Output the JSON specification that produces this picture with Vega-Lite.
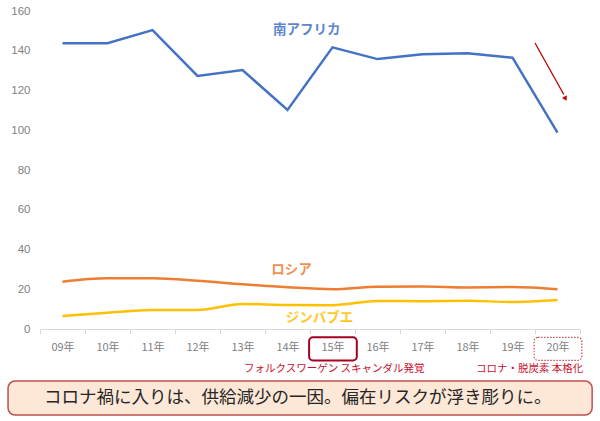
{
  "$schema": "https://vega.github.io/schema/vega-lite/v6.json",
  "width": 540,
  "height": 318,
  "autosize": "none",
  "padding": {"left": 40, "top": 11, "right": 20, "bottom": 92},
  "background": "white",
  "config": {
    "view": {"stroke": null},
    "font": "Noto Sans CJK JP",
    "text": {"font": "Noto Sans CJK JP"}
  },
  "datasets": {
    "prices": [
      {"year": "09年", "country": "南アフリカ", "value": 143.8},
      {"year": "10年", "country": "南アフリカ", "value": 143.8},
      {"year": "11年", "country": "南アフリカ", "value": 150.4},
      {"year": "12年", "country": "南アフリカ", "value": 127.3},
      {"year": "13年", "country": "南アフリカ", "value": 130.3},
      {"year": "14年", "country": "南アフリカ", "value": 110.2},
      {"year": "15年", "country": "南アフリカ", "value": 141.7},
      {"year": "16年", "country": "南アフリカ", "value": 135.8},
      {"year": "17年", "country": "南アフリカ", "value": 138.2},
      {"year": "18年", "country": "南アフリカ", "value": 138.7},
      {"year": "19年", "country": "南アフリカ", "value": 136.5},
      {"year": "20年", "country": "南アフリカ", "value": 98.8},
      {"year": "09年", "country": "ロシア", "value": 23.8},
      {"year": "10年", "country": "ロシア", "value": 25.5},
      {"year": "11年", "country": "ロシア", "value": 25.5},
      {"year": "12年", "country": "ロシア", "value": 24.3},
      {"year": "13年", "country": "ロシア", "value": 22.5},
      {"year": "14年", "country": "ロシア", "value": 21.0},
      {"year": "15年", "country": "ロシア", "value": 20.0},
      {"year": "16年", "country": "ロシア", "value": 21.3},
      {"year": "17年", "country": "ロシア", "value": 21.4},
      {"year": "18年", "country": "ロシア", "value": 20.9},
      {"year": "19年", "country": "ロシア", "value": 21.1},
      {"year": "20年", "country": "ロシア", "value": 20.0},
      {"year": "09年", "country": "ジンバブエ", "value": 6.5},
      {"year": "10年", "country": "ジンバブエ", "value": 8.2},
      {"year": "11年", "country": "ジンバブエ", "value": 9.6},
      {"year": "12年", "country": "ジンバブエ", "value": 9.6},
      {"year": "13年", "country": "ジンバブエ", "value": 12.6},
      {"year": "14年", "country": "ジンバブエ", "value": 12.1},
      {"year": "15年", "country": "ジンバブエ", "value": 12.0},
      {"year": "16年", "country": "ジンバブエ", "value": 14.1},
      {"year": "17年", "country": "ジンバブエ", "value": 14.0},
      {"year": "18年", "country": "ジンバブエ", "value": 14.2},
      {"year": "19年", "country": "ジンバブエ", "value": 13.6},
      {"year": "20年", "country": "ジンバブエ", "value": 14.6}
    ],
    "seriesLabels": [
      {"country": "南アフリカ", "slot": 5.93, "value": 150.4},
      {"country": "ロシア", "slot": 5.59, "value": 29.7},
      {"country": "ジンバブエ", "slot": 6.21, "value": 5.4}
    ],
    "events": [
      {"label": "フォルクスワーゲン スキャンダル発覚", "slot": 6.54, "value": -20.1},
      {"label": "コロナ・脱炭素 本格化", "slot": 10.88, "value": -20.1}
    ],
    "vwBox": [{"slot": 5.98, "slotEnd": 7.04, "value": -4.2, "valueEnd": -15.8}],
    "covidBox": [{"slot": 10.98, "slotEnd": 12.04, "value": -4.2, "valueEnd": -15.8}],
    "arrow": [{"slot": 11.0, "slotEnd": 11.64, "value": 143.9, "valueEnd": 118.0}],
    "arrowHead": [{"slot": 11.67, "value": 116.2}],
    "callout": [{"slot": -0.71, "slotEnd": 12.27, "value": -26.2, "valueEnd": -43.3}],
    "calloutText": [{"slot": 5.73, "value": -34.7, "text": "コロナ禍に入りは、供給減少の一因。偏在リスクが浮き彫りに。"}]
  },
  "layer": [
    {
      "data": {"name": "prices"},
      "transform": [{"filter": "datum.country == '南アフリカ'"}],
      "mark": {"type": "line", "strokeWidth": 2.5},
      "encoding": {
        "x": {
          "field": "year",
          "type": "nominal",
          "sort": null,
          "scale": {"type": "band", "paddingInner": 0, "paddingOuter": 0},
          "axis": {
            "title": null,
            "labelAngle": 0,
            "labelOverlap": false,
            "tickBand": "extent",
            "domainColor": "#d9d9d9",
            "tickColor": "#d9d9d9",
            "tickSize": 5,
            "labelColor": "#7f7f7f",
            "labelFontSize": 11,
            "labelPadding": 7,
            "labelFont": "Noto Sans CJK JP"
          }
        },
        "y": {
          "field": "value",
          "type": "quantitative",
          "scale": {"domain": [0, 160], "nice": false},
          "axis": {
            "title": null,
            "tickCount": 9,
            "labelOverlap": false,
            "labelSeparation": 0,
            "grid": false,
            "domain": false,
            "ticks": false,
            "labelColor": "#7f7f7f",
            "labelFontSize": 11.5,
            "labelPadding": 10,
            "labelFont": "Liberation Sans"
          }
        },
        "color": {
          "field": "country",
          "type": "nominal",
          "scale": {"domain": ["南アフリカ", "ロシア", "ジンバブエ"], "range": ["#4472c4", "#ed7d31", "#ffc000"]},
          "legend": null
        }
      }
    },
    {
      "data": {"name": "prices"},
      "transform": [{"filter": "datum.country != '南アフリカ'"}],
      "mark": {"type": "line", "strokeWidth": 2.5, "interpolate": "monotone"},
      "encoding": {
        "x": {"field": "year", "type": "nominal", "sort": null, "scale": {"type": "band", "paddingInner": 0, "paddingOuter": 0}, "axis": null},
        "y": {"field": "value", "type": "quantitative"},
        "color": {"field": "country", "type": "nominal", "legend": null}
      }
    },
    {
      "data": {"name": "seriesLabels"},
      "mark": {"type": "text", "fontSize": 13.5, "fontWeight": "bold", "font": "Noto Sans CJK JP", "align": "center", "baseline": "middle", "opacity": 0.85},
      "encoding": {
        "x": {"field": "slot", "type": "quantitative", "scale": {"domain": [0, 12], "nice": false, "zero": false}, "axis": null},
        "y": {"field": "value", "type": "quantitative"},
        "text": {"field": "country"},
        "color": {"field": "country", "type": "nominal", "legend": null}
      }
    },
    {
      "data": {"name": "events"},
      "mark": {"type": "text", "fontSize": 10.5, "font": "Noto Sans CJK JP", "color": "#c8102e", "align": "center", "baseline": "middle"},
      "encoding": {
        "x": {"field": "slot", "type": "quantitative", "scale": {"domain": [0, 12], "nice": false, "zero": false}, "axis": null},
        "y": {"field": "value", "type": "quantitative"},
        "text": {"field": "label"}
      }
    },
    {
      "data": {"name": "vwBox"},
      "mark": {"type": "rect", "fill": null, "stroke": "#a50021", "strokeWidth": 2, "cornerRadius": 4},
      "encoding": {
        "x": {"field": "slot", "type": "quantitative", "scale": {"domain": [0, 12], "nice": false, "zero": false}, "axis": null},
        "x2": {"field": "slotEnd"},
        "y": {"field": "value", "type": "quantitative"},
        "y2": {"field": "valueEnd"}
      }
    },
    {
      "data": {"name": "covidBox"},
      "mark": {"type": "rect", "fill": null, "stroke": "#c0504d", "strokeWidth": 1.2, "strokeDash": [1.5, 1.5], "cornerRadius": 4},
      "encoding": {
        "x": {"field": "slot", "type": "quantitative", "scale": {"domain": [0, 12], "nice": false, "zero": false}, "axis": null},
        "x2": {"field": "slotEnd"},
        "y": {"field": "value", "type": "quantitative"},
        "y2": {"field": "valueEnd"}
      }
    },
    {
      "data": {"name": "arrow"},
      "mark": {"type": "rule", "color": "#c00000", "strokeWidth": 1.3},
      "encoding": {
        "x": {"field": "slot", "type": "quantitative", "scale": {"domain": [0, 12], "nice": false, "zero": false}, "axis": null},
        "x2": {"field": "slotEnd"},
        "y": {"field": "value", "type": "quantitative"},
        "y2": {"field": "valueEnd"}
      }
    },
    {
      "data": {"name": "arrowHead"},
      "mark": {"type": "point", "shape": "triangle", "filled": true, "color": "#c00000", "size": 30, "angle": 151, "opacity": 1},
      "encoding": {
        "x": {"field": "slot", "type": "quantitative", "scale": {"domain": [0, 12], "nice": false, "zero": false}, "axis": null},
        "y": {"field": "value", "type": "quantitative"}
      }
    },
    {
      "data": {"name": "callout"},
      "mark": {"type": "rect", "fill": "#fde7d6", "stroke": "#c0504d", "strokeWidth": 1.5, "cornerRadius": 7},
      "encoding": {
        "x": {"field": "slot", "type": "quantitative", "scale": {"domain": [0, 12], "nice": false, "zero": false}, "axis": null},
        "x2": {"field": "slotEnd"},
        "y": {"field": "value", "type": "quantitative"},
        "y2": {"field": "valueEnd"}
      }
    },
    {
      "data": {"name": "calloutText"},
      "mark": {"type": "text", "fontSize": 17.5, "font": "Noto Sans CJK JP", "color": "#262626", "align": "center", "baseline": "middle"},
      "encoding": {
        "x": {"field": "slot", "type": "quantitative", "scale": {"domain": [0, 12], "nice": false, "zero": false}, "axis": null},
        "y": {"field": "value", "type": "quantitative"},
        "text": {"field": "text"}
      }
    }
  ],
  "resolve": {"scale": {"x": "independent"}}
}
